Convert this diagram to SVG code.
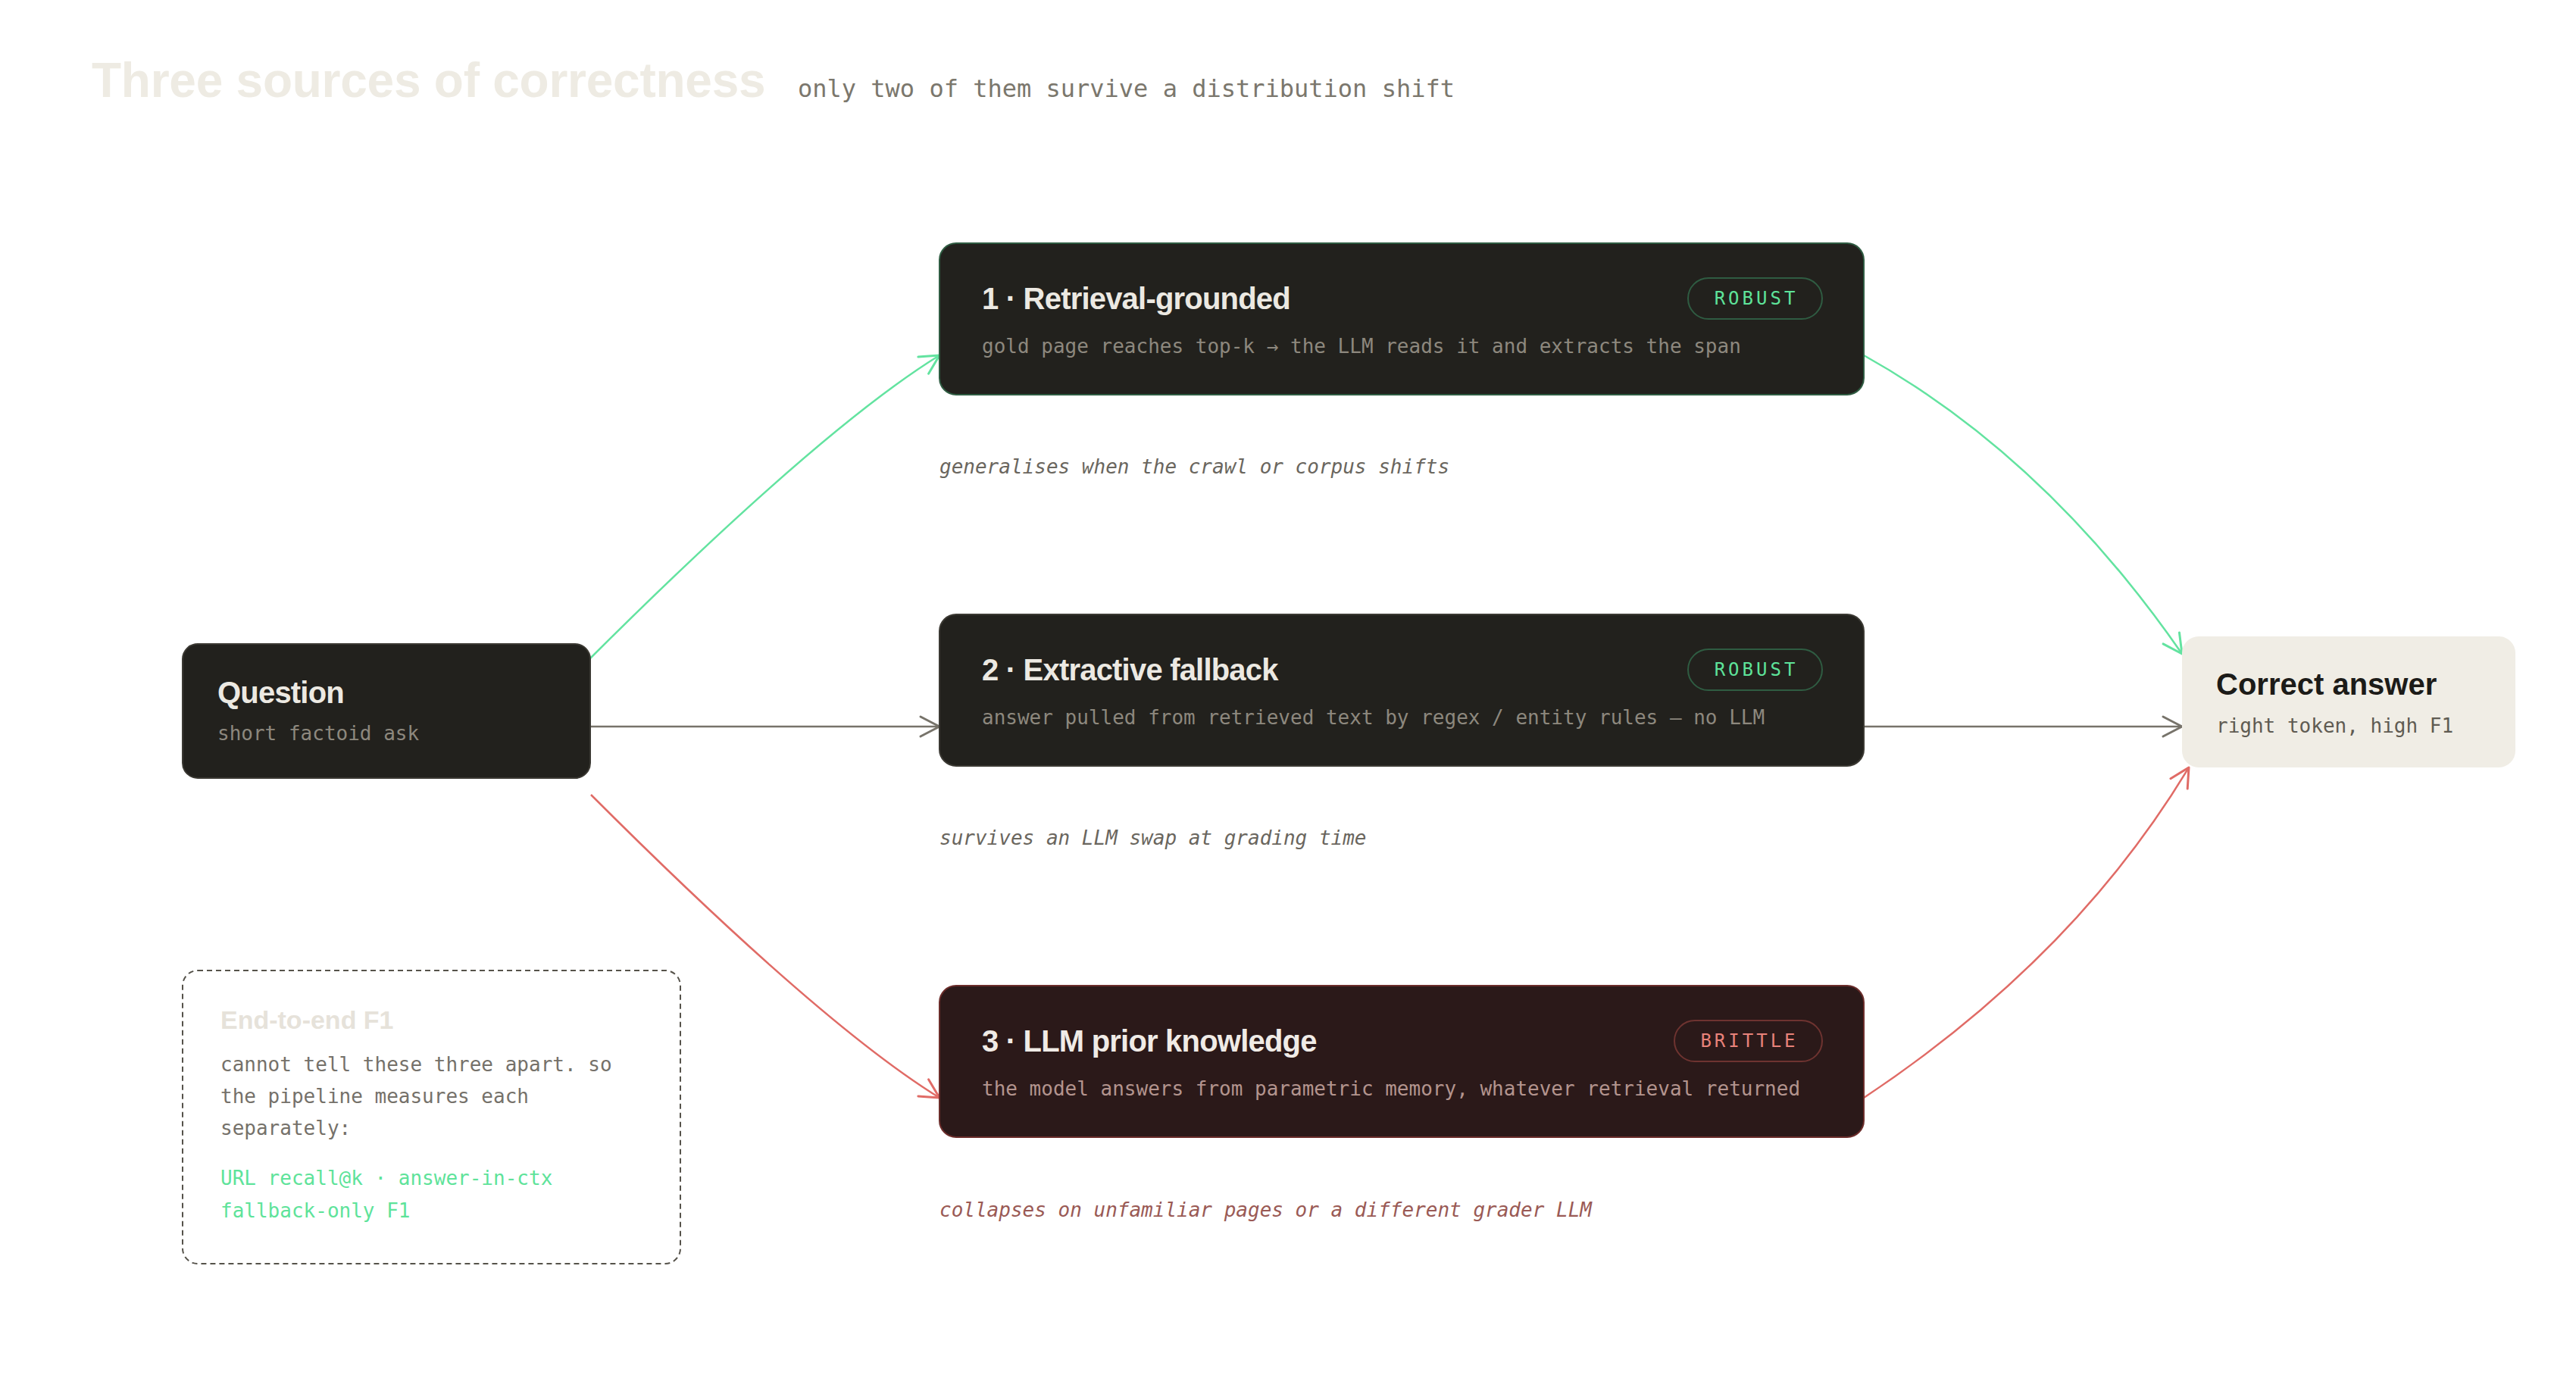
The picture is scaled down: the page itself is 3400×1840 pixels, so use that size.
<svg xmlns="http://www.w3.org/2000/svg" width="3400" height="1840" viewBox="0 0 3400 1840">
  <style>
    .sans { font-family: "Liberation Sans", Arial, sans-serif; font-weight: 700; }
    .mono { font-family: "DejaVu Sans Mono", "Liberation Mono", monospace; }
    .ntitle { font-size: 40px; fill: #ece9e2; letter-spacing: -0.8px; }
    .nsub { font-size: 26px; fill: #8d887e; }
    .dark { fill: #22211d; stroke: #3b3933; stroke-width: 2; }
    .badge { fill: none; stroke-width: 2; }
    .btext { font-size: 24px; letter-spacing: 4px; text-anchor: middle; }
    .cap { font-size: 26px; font-style: italic; fill: #6a665e; }
    .edge { fill: none; stroke-width: 2.5; }
  </style>
  <defs>
    <marker id="ah-green" viewBox="-30 -18 36 36" refX="0" refY="0" markerWidth="36" markerHeight="36" markerUnits="userSpaceOnUse" orient="auto">
      <path d="M-25,-13 L0,0 L-25,13" fill="none" stroke="#63e3a0" stroke-width="3" stroke-linecap="round" stroke-linejoin="round"/>
    </marker>
    <marker id="ah-gray" viewBox="-30 -18 36 36" refX="0" refY="0" markerWidth="36" markerHeight="36" markerUnits="userSpaceOnUse" orient="auto">
      <path d="M-25,-13 L0,0 L-25,13" fill="none" stroke="#77736a" stroke-width="3" stroke-linecap="round" stroke-linejoin="round"/>
    </marker>
    <marker id="ah-red" viewBox="-30 -18 36 36" refX="0" refY="0" markerWidth="36" markerHeight="36" markerUnits="userSpaceOnUse" orient="auto">
      <path d="M-25,-13 L0,0 L-25,13" fill="none" stroke="#e06b66" stroke-width="3" stroke-linecap="round" stroke-linejoin="round"/>
    </marker>
  </defs>

  <rect x="0" y="0" width="3400" height="1840" fill="#ffffff"/>

  <g id="header">
    <text x="121" y="128" class="sans" font-size="64" fill="#eeebe3" letter-spacing="-0.25">Three sources of correctness</text>
    <text x="1053" y="128" class="mono" font-size="32" fill="#7b776d">only two of them survive a distribution shift</text>
  </g>

  <g id="connectors">
    <path class="edge" stroke="#63e3a0" d="M779,869 Q1083,566 1240,469" marker-end="url(#ah-green)"/>
    <path class="edge" stroke="#77736a" d="M779,959 L1240,959" marker-end="url(#ah-gray)"/>
    <path class="edge" stroke="#e06b66" d="M780,1049 Q1083,1352 1240,1449" marker-end="url(#ah-red)"/>
    <path class="edge" stroke="#63e3a0" d="M2460,469 Q2700,603 2880,863" marker-end="url(#ah-green)"/>
    <path class="edge" stroke="#77736a" d="M2460,959 L2880,959" marker-end="url(#ah-gray)"/>
    <path class="edge" stroke="#e06b66" d="M2460,1449 Q2737,1265 2889,1013" marker-end="url(#ah-red)"/>
  </g>

  <g id="question">
    <rect class="dark" x="241" y="850" width="538" height="177" rx="20"/>
    <text x="287" y="928" class="sans ntitle">Question</text>
    <text x="287" y="977" class="mono nsub">short factoid ask</text>
  </g>

  <g id="source-1">
    <rect x="1240" y="321" width="1220" height="200" rx="22" fill="#22211d" stroke="#2f5c42" stroke-width="2"/>
    <text x="1296" y="408" class="sans ntitle">1 · Retrieval-grounded</text>
    <text x="1296" y="466" class="mono nsub">gold page reaches top-k → the LLM reads it and extracts the span</text>
    <rect class="badge" x="2228" y="367" width="177" height="54" rx="27" stroke="#2f5c42"/>
    <text x="2318" y="402" class="mono btext" fill="#5ee39a">ROBUST</text>
  </g>

  <g id="source-2">
    <rect class="dark" x="1240" y="811" width="1220" height="200" rx="22"/>
    <text x="1296" y="898" class="sans ntitle">2 · Extractive fallback</text>
    <text x="1296" y="956" class="mono nsub">answer pulled from retrieved text by regex / entity rules — no LLM</text>
    <rect class="badge" x="2228" y="857" width="177" height="54" rx="27" stroke="#2f5c42"/>
    <text x="2318" y="892" class="mono btext" fill="#5ee39a">ROBUST</text>
  </g>

  <g id="source-3">
    <rect x="1240" y="1301" width="1220" height="200" rx="22" fill="#2b1919" stroke="#6b2d2b" stroke-width="2"/>
    <text x="1296" y="1388" class="sans ntitle" style="fill:#f0ebe6">3 · LLM prior knowledge</text>
    <text x="1296" y="1446" class="mono nsub" style="fill:#b3948e">the model answers from parametric memory, whatever retrieval returned</text>
    <rect class="badge" x="2210" y="1347" width="195" height="54" rx="27" stroke="#6e3330"/>
    <text x="2309" y="1382" class="mono btext" fill="#e8827a">BRITTLE</text>
  </g>

  <g id="captions">
    <text x="1240" y="625" class="mono cap">generalises when the crawl or corpus shifts</text>
    <text x="1240" y="1115" class="mono cap">survives an LLM swap at grading time</text>
    <text x="1240" y="1606" class="mono cap" style="fill:#9a5a55">collapses on unfamiliar pages or a different grader LLM</text>
  </g>

  <g id="answer">
    <rect x="2880" y="840" width="440" height="173" rx="22" fill="#f0ede5"/>
    <text x="2925" y="917" class="sans ntitle" style="fill:#1c1b18;letter-spacing:0">Correct answer</text>
    <text x="2925" y="967" class="mono nsub" style="fill:#5f5b52">right token, high F1</text>
  </g>

  <g id="note">
    <rect x="241" y="1281" width="657" height="387" rx="20" fill="none" stroke="#55524a" stroke-width="2" stroke-dasharray="7 5"/>
    <text x="291" y="1358" class="sans" font-size="34" fill="#e6e2da">End-to-end F1</text>
    <text x="291" y="1414" class="mono nsub" style="fill:#75716a">cannot tell these three apart. so</text>
    <text x="291" y="1456" class="mono nsub" style="fill:#75716a">the pipeline measures each</text>
    <text x="291" y="1498" class="mono nsub" style="fill:#75716a">separately:</text>
    <text x="291" y="1564" class="mono nsub" style="fill:#5ee39a">URL recall@k · answer-in-ctx</text>
    <text x="291" y="1607" class="mono nsub" style="fill:#5ee39a">fallback-only F1</text>
  </g>
</svg>
